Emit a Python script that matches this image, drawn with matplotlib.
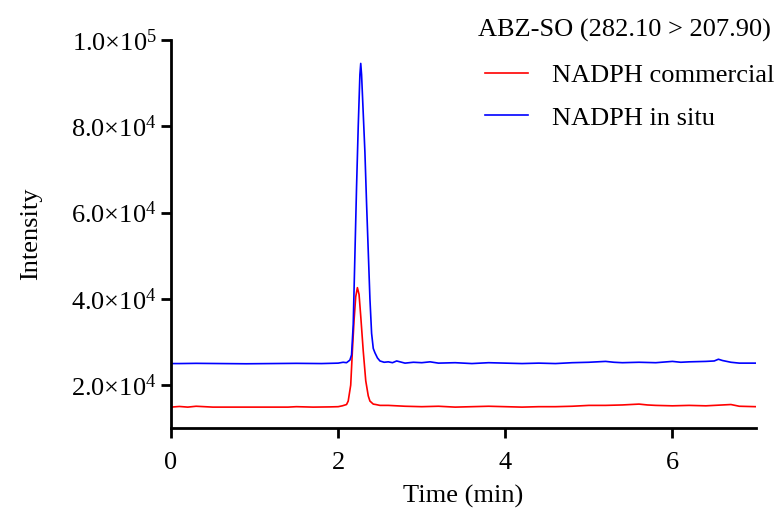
import matplotlib
matplotlib.use('Agg')
from matplotlib import pyplot as plt
from matplotlib.ticker import FuncFormatter

plt.rcParams['font.family'] = ['Liberation Serif', 'DejaVu Serif']
plt.rcParams['mathtext.fontset'] = 'custom'
plt.rcParams['mathtext.rm'] = 'Liberation Serif'
plt.rcParams['mathtext.it'] = 'Liberation Serif:italic'

#datos (tiempo en min, intensidad)
blue_t = [0.00, 0.00, 0.10, 0.30, 0.60, 0.90, 1.20, 1.50, 1.80, 2.00,
          2.06, 2.10, 2.14, 2.16, 2.18, 2.20, 2.22, 2.24, 2.26, 2.27,
          2.28, 2.30, 2.32, 2.34, 2.36, 2.38, 2.40, 2.42, 2.44, 2.47,
          2.50, 2.55, 2.60, 2.65, 2.70, 2.80, 2.90, 3.00, 3.10, 3.20,
          3.40, 3.60, 3.80, 4.00, 4.20, 4.40, 4.60, 4.80, 5.00, 5.20,
          5.30, 5.40, 5.60, 5.80, 6.00, 6.10, 6.20, 6.40, 6.50, 6.55,
          6.60, 6.70, 6.80, 7.00]
blue_i = [10000, 25000, 25000, 25050, 25000, 24950, 25000, 25050, 25000, 25100,
          25300, 25200, 25800, 27000, 34000, 50000, 66000, 80000, 92000, 94600,
          92000, 83000, 74000, 62000, 51000, 40000, 32000, 28500, 27500, 26300,
          25600, 25300, 25400, 25200, 25600, 25100, 25300, 25200, 25400, 25100,
          25200, 25000, 25200, 25100, 25000, 25100, 25000, 25200, 25300, 25500,
          25300, 25200, 25300, 25200, 25500, 25300, 25400, 25500, 25600, 26000,
          25700, 25300, 25100, 25100]

red_t = [0.00, 0.00, 0.10, 0.20, 0.30, 0.50, 0.80, 1.10, 1.40, 1.50,
         1.70, 1.90, 2.00, 2.05, 2.10, 2.12, 2.15, 2.17, 2.19, 2.21,
         2.23, 2.25, 2.27, 2.30, 2.33, 2.36, 2.38, 2.42, 2.45, 2.50,
         2.60, 2.80, 3.00, 3.20, 3.40, 3.60, 3.80, 4.00, 4.20, 4.40,
         4.60, 4.80, 5.00, 5.20, 5.40, 5.60, 5.70, 5.80, 6.00, 6.20,
         6.40, 6.60, 6.70, 6.80, 7.00]
red_i = [10000, 14900, 15050, 14900, 15100, 14900, 14900, 14900, 14900, 15000,
         14900, 14950, 15000, 15200, 15500, 16300, 20000, 27900, 35000, 40500,
         42600, 41000, 36000, 27900, 21000, 17500, 16300, 15600, 15500, 15300,
         15300, 15100, 15000, 15100, 14900, 15000, 15100, 15000, 14900, 15000,
         15000, 15100, 15300, 15300, 15400, 15600, 15400, 15300, 15200, 15300,
         15200, 15400, 15500, 15100, 15000]

labels = ['NADPH commercial', 'NADPH in situ']
titulo = 'ABZ-SO (282.10 > 207.90)'
x_ticks = [0, 2, 4, 6]
y_ticks = [20000, 40000, 60000, 80000, 100000]

fig = plt.figure(figsize=(7.81, 5.08), dpi=100)
ax = fig.add_axes([0.219, 0.157, 0.749, 0.764])

ax.plot(red_t, red_i, color='#ff0000', lw=1.2, label=labels[0])
ax.plot(blue_t, blue_i, color='#0000ff', lw=1.2, label=labels[1])

ax.set_xlim(0, 7)
ax.set_ylim(10000, 100000)
ax.set_xticks(x_ticks)
ax.set_yticks(y_ticks)

def fmt(v, pos):
    e = len(str(int(v))) - 1
    m = v / 10 ** e
    return r'$\mathregular{%.1f{\times}10^{%d}}$' % (m, e)

ax.yaxis.set_major_formatter(FuncFormatter(fmt))
ax.tick_params(labelsize=19, width=2, length=7, direction='out')
ax.tick_params(axis='x', pad=10)

for s in ['top', 'right']:
    ax.spines[s].set_visible(False)
for s in ['left', 'bottom']:
    ax.spines[s].set_linewidth(2)

ax.set_xlabel('Time (min)', fontsize=19, labelpad=8)
ax.set_ylabel('Intensity', fontsize=19, labelpad=21)

#titulo de la leyenda aparte
fig.text(478 / 781, 1 - 37 / 508, titulo, fontsize=19, ha='left', va='baseline')
leg = ax.legend(loc='upper left', bbox_to_anchor=(485 / 781, 1 - 64 / 508),
                bbox_transform=fig.transFigure, frameon=False, fontsize=19,
                handlelength=1.63, handletextpad=0.9,
                labelspacing=0.71, borderpad=0, borderaxespad=0)

fig.savefig('out.png', dpi=100)
